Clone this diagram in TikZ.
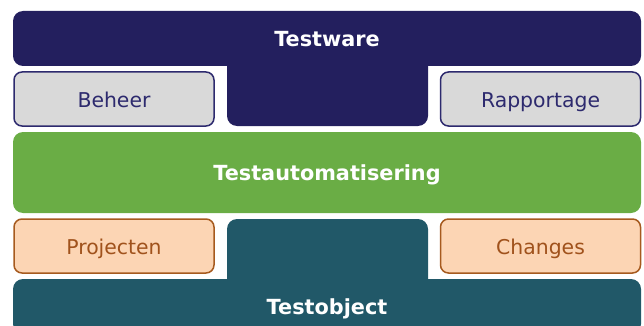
\documentclass[tikz,border=0pt]{standalone}
\usepackage{fontspec}
\setmainfont{DejaVu Sans}
\definecolor{navy}{HTML}{231F5E}
\definecolor{navytext}{HTML}{2D2A6E}
\definecolor{boxgray}{HTML}{D9D9D9}
\definecolor{tagreen}{HTML}{6AAD45}
\definecolor{peach}{HTML}{FCD5B4}
\definecolor{peachline}{HTML}{A65A1E}
\definecolor{peachtext}{HTML}{A0521C}
\definecolor{teal}{HTML}{215868}
\begin{document}
\begin{tikzpicture}[x=1pt,y=-1pt,
  bigbar/.style={rectangle, rounded corners=10pt, inner sep=0pt, text=white,
    text height=18pt, text depth=2pt,
    font=\fontsize{20.8}{24}\selectfont\bfseries, minimum width=628pt},
  smallbox/.style={rectangle, rounded corners=8pt, inner sep=0pt, line width=1.5pt,
    text height=18pt, text depth=2pt,
    font=\fontsize{20.4}{24}\selectfont, minimum width=200pt, minimum height=54pt},
  graybox/.style={smallbox, fill=boxgray, draw=navytext, text=navytext},
  peachbox/.style={smallbox, fill=peach, draw=peachline, text=peachtext}]
\useasboundingbox (0,0) rectangle (644,326);
\clip (0,0) rectangle (644,326);
% stems
\fill[navy, rounded corners=10pt] (227,50) rectangle (428,126);
\fill[teal, rounded corners=10pt] (227,219) rectangle (428,295);
% bars
\node[bigbar, fill=navy, minimum height=55pt] (testware) at (327,38.5) {Testware};
\node[bigbar, fill=tagreen, minimum height=81pt] (auto) at (327,172.5) {Testautomatisering};
\node[bigbar, fill=teal, minimum height=55pt] (testobject) at (327,306.5) {Testobject};
% side boxes
\node[graybox] (beheer) at (114,99) {Beheer};
\node[graybox] (rapportage) at (540.5,99) {Rapportage};
\node[peachbox] (projecten) at (114,246) {Projecten};
\node[peachbox] (changes) at (540.5,246) {Changes};
\end{tikzpicture}
\end{document}
